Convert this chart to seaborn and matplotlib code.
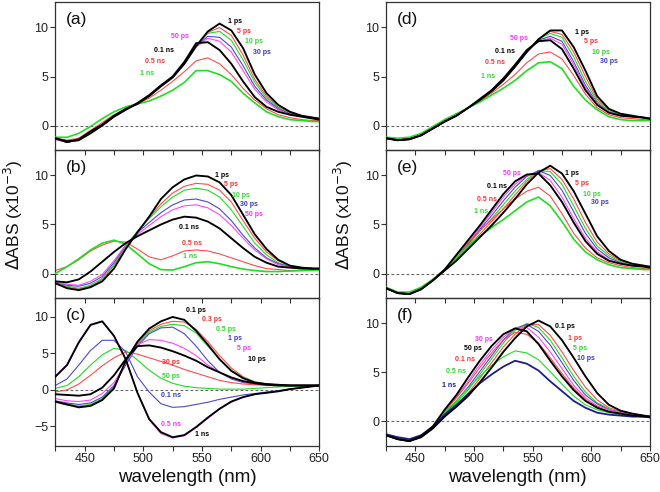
import matplotlib
matplotlib.use("Agg")
import matplotlib.pyplot as plt
from matplotlib.ticker import MultipleLocator
import seaborn as sns

sns.set_style("ticks")
plt.rcParams["font.family"] = ["Liberation Sans", "DejaVu Sans"]

# ---------------- data ----------------
wavelength = [425, 435, 445, 455, 465, 475, 485, 495, 505, 515, 525, 535,
              545, 555, 565, 575, 585, 595, 605, 615, 625, 635, 645, 650]

a_1ps  = [-1.3,-1.7,-1.4,-0.6,0.1,1.0,1.7,2.2,3.0,4.0,4.9,6.3,8.1,9.6,10.4,9.7,7.9,5.2,3.3,2.1,1.4,1.0,0.8,0.7]
a_5ps  = [-1.4,-1.7,-1.5,-0.7,0.0,0.9,1.6,2.2,3.0,4.0,4.9,6.3,8.1,9.5,10.0,9.2,7.2,4.7,3.0,1.9,1.3,1.0,0.8,0.7]
a_10ps = [-1.4,-1.7,-1.5,-0.7,0.0,0.9,1.6,2.2,3.0,4.0,4.9,6.3,8.1,9.4,9.6,8.7,6.7,4.4,2.8,1.8,1.2,0.9,0.8,0.7]
a_30ps = [-1.4,-1.7,-1.5,-0.7,0.0,0.9,1.6,2.2,3.0,4.0,4.9,6.3,8.1,9.1,9.0,8.0,6.1,4.0,2.6,1.7,1.2,0.9,0.8,0.7]
a_50ps = [-1.4,-1.7,-1.5,-0.7,0.0,0.9,1.6,2.2,3.0,4.0,4.9,6.3,8.0,8.9,8.6,7.5,5.6,3.7,2.4,1.6,1.1,0.9,0.7,0.7]
a_01ns = [-1.3,-1.6,-1.5,-0.8,0.0,0.9,1.6,2.3,3.1,4.1,5.0,6.5,8.4,8.5,7.7,6.3,4.5,2.9,1.9,1.4,1.1,0.9,0.7,0.6]
a_05ns = [-1.3,-1.5,-1.3,-0.5,0.3,1.1,1.7,2.2,2.8,3.6,4.5,5.5,6.6,6.9,6.3,5.2,3.8,2.6,1.7,1.1,0.8,0.6,0.5,0.5]
a_1ns  = [-1.2,-1.2,-0.8,-0.1,0.7,1.4,1.9,2.2,2.5,3.0,3.6,4.4,5.6,5.6,5.2,4.5,3.3,2.3,1.4,0.9,0.6,0.5,0.4,0.4]

b_1ps  = [-1.0,-1.5,-1.7,-1.4,-0.8,0.5,2.5,4.2,5.8,7.6,8.8,9.6,10.0,9.9,9.3,8.0,6.0,4.0,2.5,1.4,0.8,0.6,0.5,0.5]
b_5ps  = [-1.0,-1.4,-1.6,-1.3,-0.6,0.8,2.7,4.3,5.7,7.1,8.2,8.9,9.2,9.1,8.5,7.3,5.4,3.6,2.2,1.3,0.8,0.6,0.5,0.5]
b_10ps = [-1.0,-1.3,-1.5,-1.2,-0.5,0.9,2.8,4.3,5.6,6.8,7.8,8.5,8.7,8.5,7.8,6.5,4.8,3.1,1.9,1.1,0.7,0.6,0.5,0.5]
b_30ps = [-0.9,-1.2,-1.3,-1.0,-0.3,1.1,2.9,4.2,5.2,6.2,7.0,7.5,7.6,7.3,6.6,5.4,3.9,2.6,1.6,1.0,0.7,0.6,0.5,0.5]
b_50ps = [-0.9,-1.1,-1.2,-0.8,-0.1,1.3,2.9,4.0,4.9,5.8,6.5,6.9,7.0,6.7,6.0,4.9,3.6,2.4,1.5,0.9,0.7,0.6,0.5,0.5]
b_01ns = [-0.8,-0.9,-0.6,0.2,1.2,2.2,3.1,3.8,4.4,5.0,5.5,5.8,5.7,5.3,4.6,3.6,2.6,1.7,1.1,0.7,0.6,0.5,0.5,0.5]
b_05ns = [0.3,0.7,1.4,2.3,2.9,3.3,3.2,2.5,1.7,1.4,1.8,2.3,2.4,2.3,2.0,1.6,1.2,0.8,0.5,0.4,0.3,0.3,0.4,0.4]
b_1ns  = [0.0,0.7,1.5,2.4,3.1,3.4,3.0,2.0,1.0,0.4,0.35,0.7,1.1,1.2,1.0,0.7,0.45,0.3,0.2,0.2,0.25,0.3,0.35,0.35]

c_01ps = [-1.6,-2.0,-2.4,-2.2,-1.4,0.2,4.0,6.6,8.4,9.4,10.0,9.6,8.1,6.2,4.2,2.6,1.6,1.0,0.8,0.7,0.6,0.6,0.6,0.6]
c_03ps = [-1.7,-2.1,-2.3,-2.1,-1.3,0.3,3.8,6.4,8.1,9.0,9.4,9.3,8.3,6.6,4.7,3.0,1.8,1.1,0.8,0.7,0.6,0.6,0.6,0.6]
c_05ps = [-1.6,-1.9,-2.2,-2.0,-1.2,0.4,3.6,6.2,7.9,8.7,9.0,8.8,7.8,6.0,4.2,2.7,1.7,1.1,0.8,0.7,0.6,0.6,0.6,0.6]
c_1ps  = [-1.5,-1.8,-2.0,-1.8,-1.0,0.6,3.4,6.0,7.7,8.5,8.6,7.7,6.0,4.0,2.4,1.5,1.0,0.8,0.7,0.6,0.6,0.6,0.6,0.6]
c_5ps  = [-1.2,-1.5,-1.6,-1.4,-0.5,1.0,3.6,6.2,6.9,6.8,6.4,5.7,4.7,3.4,2.4,1.6,1.1,0.8,0.7,0.6,0.6,0.6,0.6,0.6]
c_10ps = [-0.6,-0.7,-0.8,-0.6,0.3,2.0,4.2,6.0,6.1,5.8,5.3,4.7,4.0,3.1,2.4,1.7,1.2,0.9,0.7,0.6,0.6,0.6,0.6,0.6]
c_30ps = [-0.3,0.0,0.8,2.0,3.3,4.4,5.2,4.9,4.4,3.9,3.4,2.8,2.3,1.8,1.3,1.0,0.8,0.7,0.6,0.6,0.6,0.6,0.6,0.6]
c_50ps = [0.2,0.6,1.8,3.4,4.8,5.7,5.4,4.1,2.7,1.6,0.9,0.5,0.3,0.2,0.1,0.1,0.1,0.2,0.3,0.4,0.5,0.5,0.6,0.6]
c_01ns = [0.6,1.5,3.4,5.4,6.8,6.8,5.2,1.8,-0.3,-1.9,-2.4,-2.3,-2.0,-1.7,-1.3,-1.0,-0.7,-0.5,-0.3,-0.1,0.1,0.3,0.5,0.6]
c_05ns = [1.9,3.5,6.6,9.0,9.4,7.4,4.2,-0.4,-4.1,-6.0,-6.6,-6.3,-5.2,-3.9,-2.6,-1.7,-1.0,-0.6,-0.4,-0.2,0.1,0.3,0.5,0.6]
c_1ns  = [1.8,3.4,6.5,8.9,9.4,7.4,4.2,-0.4,-4.0,-5.8,-6.5,-6.2,-5.1,-3.8,-2.6,-1.6,-1.0,-0.6,-0.4,-0.2,0.1,0.3,0.5,0.6]

d_1ps  = [-1.3,-1.5,-1.4,-1.0,-0.3,0.4,1.0,1.8,2.6,3.5,4.6,6.0,7.5,8.8,9.7,9.7,8.0,5.6,3.0,1.7,1.2,1.0,0.8,0.7]
d_5ps  = [-1.3,-1.5,-1.4,-1.0,-0.3,0.4,1.0,1.8,2.6,3.5,4.6,6.0,7.5,8.8,9.6,9.3,7.5,5.0,2.7,1.6,1.1,0.9,0.8,0.7]
d_10ps = [-1.3,-1.5,-1.4,-1.0,-0.3,0.4,1.0,1.8,2.6,3.5,4.6,6.0,7.5,8.8,9.4,9.0,7.0,4.5,2.5,1.5,1.1,0.9,0.8,0.7]
d_30ps = [-1.3,-1.5,-1.4,-1.0,-0.3,0.4,1.0,1.8,2.6,3.5,4.6,6.0,7.5,8.7,9.1,8.6,6.5,4.1,2.3,1.4,1.0,0.9,0.8,0.7]
d_50ps = [-1.3,-1.5,-1.4,-1.0,-0.3,0.4,1.0,1.8,2.6,3.5,4.6,6.0,7.5,8.6,8.9,8.3,6.2,3.9,2.2,1.4,1.0,0.9,0.8,0.7]
d_01ns = [-1.3,-1.5,-1.4,-1.0,-0.3,0.4,1.0,1.8,2.7,3.6,4.8,6.2,7.7,8.6,8.7,7.8,5.8,3.6,2.1,1.3,1.0,0.9,0.8,0.7]
d_05ns = [-1.3,-1.4,-1.3,-0.9,-0.2,0.5,1.1,1.8,2.5,3.3,4.2,5.2,6.4,7.3,7.5,6.8,5.1,3.2,1.8,1.1,0.8,0.7,0.6,0.6]
d_1ns  = [-1.2,-1.3,-1.2,-0.8,-0.1,0.6,1.2,1.8,2.4,3.1,3.8,4.6,5.6,6.4,6.5,5.8,4.0,2.6,1.6,0.9,0.6,0.5,0.5,0.5]

e_1ps  = [-1.5,-2.0,-2.1,-1.6,-0.7,0.3,1.3,2.5,3.7,4.9,6.2,7.6,9.1,10.3,11.0,10.2,8.4,6.1,3.8,2.3,1.4,1.0,0.8,0.7]
e_5ps  = [-1.5,-2.0,-2.1,-1.6,-0.7,0.3,1.4,2.7,4.0,5.3,6.6,8.0,9.4,10.5,10.7,9.6,7.6,5.2,3.2,2.0,1.3,0.9,0.7,0.6]
e_10ps = [-1.5,-2.0,-2.1,-1.6,-0.7,0.3,1.5,2.9,4.3,5.6,7.0,8.4,9.6,10.5,10.4,9.1,6.9,4.6,2.8,1.8,1.2,0.9,0.7,0.6]
e_30ps = [-1.5,-2.0,-2.1,-1.6,-0.7,0.3,1.6,3.0,4.5,5.9,7.4,8.8,9.9,10.5,10.0,8.5,6.3,4.1,2.5,1.6,1.1,0.8,0.7,0.6]
e_50ps = [-1.5,-2.0,-2.1,-1.6,-0.7,0.3,1.7,3.2,4.7,6.2,7.8,9.1,10.0,10.3,9.5,7.8,5.6,3.6,2.2,1.4,1.0,0.8,0.7,0.6]
e_01ns = [-1.5,-2.0,-2.1,-1.6,-0.7,0.4,1.9,3.4,4.9,6.5,8.1,9.4,10.1,10.2,9.0,7.3,5.2,3.3,2.0,1.3,1.0,0.8,0.7,0.6]
e_05ns = [-1.5,-2.0,-2.0,-1.5,-0.6,0.4,1.7,3.1,4.4,5.5,6.6,7.6,8.4,8.8,7.9,6.1,4.1,2.6,1.6,1.1,0.8,0.6,0.5,0.5]
e_1ns  = [-1.4,-1.9,-1.9,-1.4,-0.6,0.4,1.6,2.8,3.8,4.7,5.5,6.4,7.3,7.8,6.9,5.3,3.5,2.2,1.4,0.9,0.6,0.5,0.4,0.4]

f_01ps = [-1.4,-1.8,-2.0,-1.6,-0.7,0.5,1.5,2.6,4.0,5.5,7.1,8.5,9.7,10.3,9.7,8.3,6.5,4.6,2.9,1.7,1.1,0.8,0.6,0.5]
f_1ps  = [-1.4,-1.8,-2.0,-1.6,-0.7,0.6,1.7,2.9,4.4,6.0,7.6,8.9,9.9,9.9,8.8,7.1,5.2,3.5,2.2,1.4,1.0,0.8,0.6,0.5]
f_5ps  = [-1.4,-1.8,-2.0,-1.6,-0.7,0.7,1.9,3.2,4.8,6.4,8.0,9.3,10.0,9.6,8.3,6.5,4.6,3.0,1.9,1.3,0.9,0.7,0.6,0.5]
f_10ps = [-1.4,-1.8,-2.0,-1.6,-0.7,0.8,2.1,3.5,5.1,6.7,8.3,9.5,9.9,9.2,7.8,6.0,4.2,2.7,1.8,1.2,0.9,0.7,0.6,0.5]
f_30ps = [-1.4,-1.8,-2.0,-1.6,-0.6,1.1,2.5,4.1,5.8,7.3,8.6,9.5,9.6,8.6,7.1,5.4,3.7,2.4,1.6,1.2,0.9,0.7,0.6,0.5]
f_50ps = [-1.4,-1.8,-2.0,-1.5,-0.5,1.2,2.7,4.5,6.2,7.7,8.9,9.5,9.2,7.9,6.2,4.6,3.2,2.1,1.4,1.0,0.8,0.6,0.5,0.5]
f_01ns = [-1.4,-1.8,-2.0,-1.5,-0.6,1.0,2.4,3.9,5.5,7.0,8.3,9.1,8.9,8.0,6.5,4.9,3.4,2.2,1.5,1.0,0.8,0.6,0.5,0.5]
f_05ns = [-1.3,-1.7,-1.9,-1.4,-0.6,0.9,2.1,3.4,4.6,5.7,6.6,7.2,7.0,6.3,5.1,3.8,2.6,1.7,1.2,0.9,0.7,0.6,0.5,0.5]
f_1ns  = [-1.3,-1.6,-1.8,-1.4,-0.5,0.7,1.7,2.8,3.9,4.8,5.6,6.2,5.9,5.2,4.1,3.1,2.1,1.4,0.9,0.7,0.6,0.5,0.5,0.4]

delay_abde = ["1 ps", "5 ps", "10 ps", "30 ps", "50 ps", "0.1 ns", "0.5 ns", "1 ns"]
delay_c = ["0.1 ps", "0.3 ps", "0.5 ps", "1 ps", "5 ps", "10 ps", "30 ps", "50 ps",
           "0.1 ns", "0.5 ns", "1 ns"]
delay_f = ["0.1 ps", "1 ps", "5 ps", "10 ps", "30 ps", "50 ps", "0.1 ns", "0.5 ns", "1 ns"]

x_ticks = [450, 500, 550, 600, 650]

# ---------------- style ----------------
BLK, RED, GRN, BLU, MAG, NAV = "#000000", "#ff4b4b", "#22dd22", "#4a4acf", "#ff45ff", "#1c1c8e"
TRED, TGRN, TBLU, TMAG = "#ff3030", "#2fd82f", "#3a3ac0", "#ff30ff"
THICK, THIN = 1.35, 0.8

std_colors = [BLK, RED, GRN, BLU, MAG, BLK, RED, GRN]
std_lw = [THICK, THIN, THIN, THIN, THIN, THICK, THIN, 1.2]
std_tcol = [BLK, TRED, TGRN, TBLU, TMAG, BLK, TRED, TGRN]

panels = [
    dict(tag="(a)", pos=(0.0838, 0.6951), ylim=(-2.5, 12.6), yt=[0, 5, 10], bottom=False,
         series=[a_1ps, a_5ps, a_10ps, a_30ps, a_50ps, a_01ns, a_05ns, a_1ns],
         names=delay_abde, colors=std_colors, lws=std_lw, tcols=std_tcol,
         lab=[(572.5, 10.6), (580.2, 9.6), (586.7, 8.6), (593.3, 7.5), (523.4, 9.1),
              (509.4, 7.7), (501.5, 6.5), (497.2, 5.3)], zero="#666666"),
    dict(tag="(b)", pos=(0.0838, 0.3943), ylim=(-2.5, 12.6), yt=[0, 5, 10], bottom=False,
         series=[b_1ps, b_5ps, b_10ps, b_30ps, b_50ps, b_01ns, b_05ns, b_1ns],
         names=delay_abde, colors=std_colors, lws=std_lw, tcols=std_tcol,
         lab=[(561.0, 10.0), (569.0, 9.1), (575.3, 8.0), (582.0, 7.0), (587.0, 6.0),
              (530.7, 4.7), (532.7, 3.1), (534.1, 1.7)], zero="#666666"),
    dict(tag="(c)", pos=(0.0838, 0.0935), ylim=(-7.7, 12.6), yt=[-5, 0, 5, 10], bottom=True,
         series=[c_01ps, c_03ps, c_05ps, c_1ps, c_5ps, c_10ps, c_30ps, c_50ps, c_01ns, c_05ns, c_1ns],
         names=delay_c,
         colors=[BLK, RED, GRN, BLU, MAG, BLK, RED, GRN, BLU, MAG, BLK],
         lws=[THICK, THIN, THIN, THIN, THIN, THICK, THIN, THIN, THIN, THIN, THICK],
         tcols=[BLK, TRED, TGRN, TBLU, TMAG, BLK, TRED, TGRN, TBLU, TMAG, BLK],
         lab=[(536.2, 10.9), (549.8, 9.7), (562.0, 8.3), (572.5, 7.0), (579.6, 5.65),
              (589.0, 4.2), (515.7, 3.8), (515.7, 1.8), (514.9, -0.75), (514.9, -4.8),
              (544.0, -6.1)], zero="#666666"),
    dict(tag="(d)", pos=(0.5848, 0.6951), ylim=(-2.5, 12.6), yt=[0, 5, 10], bottom=False,
         series=[d_1ps, d_5ps, d_10ps, d_30ps, d_50ps, d_01ns, d_05ns, d_1ns],
         names=delay_abde, colors=std_colors, lws=std_lw, tcols=std_tcol,
         lab=[(586.5, 9.5), (594.2, 8.6), (600.8, 7.5), (607.3, 6.5), (531.0, 8.9),
              (517.6, 7.6), (509.0, 6.4), (505.9, 5.0)], zero="#666666"),
    dict(tag="(e)", pos=(0.5848, 0.3943), ylim=(-2.5, 12.6), yt=[0, 5, 10], bottom=False,
         series=[e_1ps, e_5ps, e_10ps, e_30ps, e_50ps, e_01ns, e_05ns, e_1ns],
         names=delay_abde, colors=std_colors, lws=std_lw, tcols=std_tcol,
         lab=[(578.0, 10.2), (586.5, 9.2), (593.1, 8.1), (599.4, 7.2), (524.7, 10.2),
              (510.8, 8.9), (502.8, 7.5), (500.2, 6.3)], zero="#666666"),
    dict(tag="(f)", pos=(0.5848, 0.0935), ylim=(-2.5, 12.6), yt=[0, 5, 10], bottom=True,
         series=[f_01ps, f_1ps, f_5ps, f_10ps, f_30ps, f_50ps, f_01ns, f_05ns, f_1ns],
         names=delay_f,
         colors=[BLK, RED, GRN, BLU, MAG, BLK, RED, GRN, NAV],
         lws=[THICK, THIN, THIN, THIN, THIN, THICK, THIN, THIN, 1.3],
         tcols=[BLK, TRED, TGRN, TBLU, TMAG, BLK, TRED, TGRN, NAV],
         lab=[(569.4, 9.7), (580.0, 8.5), (584.6, 7.4), (588.0, 6.4), (500.5, 8.4),
              (491.7, 7.4), (484.0, 6.3), (476.3, 5.1), (472.6, 3.7)], zero="#5a5ad8"),
]

fig = plt.figure(figsize=(6.6, 4.92), dpi=100)
fig.patch.set_facecolor("white")

for p in panels:
    ax = fig.add_axes([p["pos"][0], p["pos"][1], 0.4, 0.3008])
    ax.set_facecolor("none")
    ax.axhline(0, color=p["zero"], lw=0.8, ls=(0, (2.5, 2.0)), zorder=1)
    order = sorted(range(len(p["series"])), key=lambda i: p["lws"][i])
    for i in order:
        sns.lineplot(x=wavelength, y=p["series"][i], ax=ax, color=p["colors"][i],
                     lw=p["lws"][i], estimator=None, sort=False,
                     zorder=3 if p["lws"][i] > 1 else 2)
    for (tx, ty), name, col in zip(p["lab"], p["names"], p["tcols"]):
        ax.text(tx, ty, name, color=col, fontsize=5, fontweight="bold",
                ha="left", va="center", zorder=6)
    ax.text(0.04, 0.935, p["tag"], transform=ax.transAxes, fontsize=12.5,
            ha="left", va="top", color="#111111", zorder=6)
    ax.set_xlim(425, 650)
    ax.set_ylim(*p["ylim"])
    ax.set_xticks(x_ticks)
    ax.xaxis.set_minor_locator(MultipleLocator(25))
    ax.set_yticks(p["yt"])
    ax.tick_params(axis="both", which="both", direction="out", length=3.5,
                   width=0.8, color="#333333", labelsize=9, labelcolor="#222222", pad=1.5)
    ax.tick_params(axis="x", labelbottom=p["bottom"])
    ax.set_xlabel("")
    ax.set_ylabel("")
    for s in ax.spines.values():
        s.set_visible(True)
        s.set_linewidth(0.9)
        s.set_color("#333333")

for xc in (187.5 / 660, 517.5 / 660):
    fig.text(xc, 1 - 478 / 492, "wavelength (nm)", ha="center", va="center",
             fontsize=13.5, color="#111111")
for xc in (13 / 660, 343 / 660):
    fig.text(xc, 1 - 215 / 492, r"$\Delta$ABS (x10$^{-3}$)", ha="center", va="center",
             rotation=90, fontsize=12.5, color="#111111")

fig.savefig("out.png", dpi=100)
